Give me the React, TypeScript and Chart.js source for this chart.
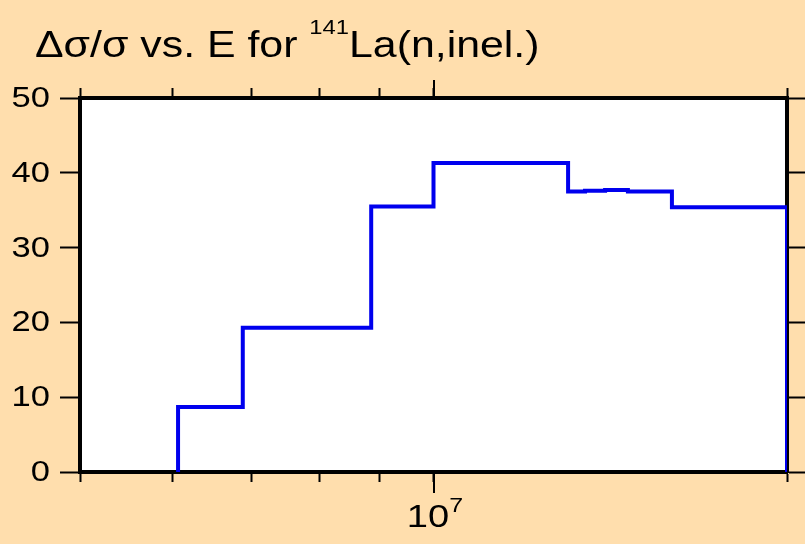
import React, { useEffect, useRef } from "react";
import { Chart, registerables } from "chart.js";

Chart.register(...registerables);

// ---- data ----
const binEdges = [6.06e6, 6.88e6, 8.85e6, 1.0e7, 1.302e7, 1.346e7, 1.4e7, 1.464e7, 1.596e7, 2.0e7];
const relUncertainty = [8.7, 19.3, 35.5, 41.3, 37.5, 37.6, 37.7, 37.5, 35.4];
const xTickValues = [5e6, 6e6, 7e6, 8e6, 9e6, 1e7, 2e7];
const xMajorTicks = [1e7];
const xMajorLabels = [["10", "7"]];
const yTickValues = [0, 10, 20, 30, 40, 50];
const yTickLabels = ["0", "10", "20", "30", "40", "50"];
const titleParts = ["\u0394\u03c3/\u03c3 vs. E for ", "141", "La(n,inel.)"];

const FONT = "'Liberation Sans', Arial, Helvetica, sans-serif";
const BG = "#FFDEAD";
const SX = 1.19; // horizontal text stretch seen in the reference

function buildPoints() {
  const pts: { x: number; y: number }[] = [];
  pts.push({ x: binEdges[0], y: 0 });
  for (let i = 0; i < relUncertainty.length; i++) {
    pts.push({ x: binEdges[i], y: relUncertainty[i] });
  }
  const last = binEdges[binEdges.length - 1];
  pts.push({ x: last, y: relUncertainty[relUncertainty.length - 1] });
  pts.push({ x: last, y: 0 });
  return pts;
}

const tickGrid = (len: number) => ({
  drawOnChartArea: false,
  drawTicks: true,
  tickLength: len,
  tickColor: "#000",
  tickWidth: 2,
  color: "#000",
});
const border = { display: true, color: "#000", width: 4 };

function text(ctx: any, s: string, x: number, y: number, size: number, align: string, baseline = "alphabetic") {
  ctx.save();
  ctx.translate(x, y);
  ctx.scale(SX, 1);
  ctx.font = `${size}px ${FONT}`;
  ctx.textAlign = align;
  ctx.textBaseline = baseline;
  ctx.fillText(s, 0, 0);
  const w = ctx.measureText(s).width * SX;
  ctx.restore();
  return w;
}

function measure(ctx: any, s: string, size: number) {
  ctx.save();
  ctx.font = `${size}px ${FONT}`;
  const w = ctx.measureText(s).width * SX;
  ctx.restore();
  return w;
}

const decorPlugin = {
  id: "decor",
  afterDraw(chart: any) {
    const ctx = chart.ctx;
    const xs = chart.scales.x;
    const ys = chart.scales.y;
    const area = chart.chartArea;
    ctx.save();
    ctx.fillStyle = "#000";
    ctx.strokeStyle = "#000";
    // title
    let tx = 35;
    const tb = 57;
    tx += text(ctx, titleParts[0], tx, tb, 36, "left");
    tx += text(ctx, titleParts[1], tx, tb - 23, 20, "left");
    text(ctx, titleParts[2], tx, tb, 36, "left");

    // y tick labels
    yTickValues.forEach((v, i) => {
      const py = ys.getPixelForValue(v);
      text(ctx, yTickLabels[i], 50, py + 1, 29, "right", "middle");
    });

    // major x ticks (longer) and labels
    ctx.lineWidth = 2;
    xMajorTicks.forEach((v, i) => {
      const px = Math.round(xs.getPixelForValue(v));
      ctx.beginPath();
      ctx.moveTo(px, area.bottom + 2);
      ctx.lineTo(px, area.bottom + 21);
      ctx.moveTo(px, area.top - 2);
      ctx.lineTo(px, area.top - 18);
      ctx.stroke();
      const [base, exp] = xMajorLabels[i];
      const bw = measure(ctx, base, 32);
      const ew = measure(ctx, exp, 21);
      const left = px - (bw + ew) / 2 + 1;
      text(ctx, base, left, 527, 32, "left");
      text(ctx, exp, left + bw, 512, 21, "left");
    });
    ctx.restore();
  },
};

export default function App() {
  const ref = useRef<HTMLCanvasElement | null>(null);
  useEffect(() => {
    if (!ref.current) return;
    const chart = new Chart(ref.current, {
      type: "line",
      data: {
        datasets: [
          {
            data: buildPoints(),
            borderColor: "#0000EE",
            borderWidth: 4,
            pointRadius: 0,
            stepped: "before",
            fill: false,
            xAxisID: "x",
            yAxisID: "y",
          },
        ],
      },
      options: {
        responsive: false,
        animation: false,
        events: [],
        layout: { padding: 0 },
        plugins: { legend: { display: false }, tooltip: { enabled: false }, title: { display: false } },
        scales: {
          x: {
            type: "logarithmic",
            position: "bottom",
            min: 5e6,
            max: 2e7,
            afterBuildTicks: (s: any) => {
              s.ticks = xTickValues.map((v) => ({ value: v }));
            },
            ticks: { display: false },
            grid: tickGrid(10),
            border,
            afterFit: (s: any) => {
              s.height = 72;
            },
          },
          xTop: {
            type: "logarithmic",
            position: "top",
            min: 5e6,
            max: 2e7,
            afterBuildTicks: (s: any) => {
              s.ticks = xTickValues.map((v) => ({ value: v }));
            },
            ticks: { display: false },
            grid: tickGrid(10),
            border,
            afterFit: (s: any) => {
              s.height = 98;
            },
          },
          y: {
            type: "linear",
            position: "left",
            min: 0,
            max: 50,
            afterBuildTicks: (s: any) => {
              s.ticks = yTickValues.map((v) => ({ value: v }));
            },
            ticks: { display: false },
            grid: tickGrid(20),
            border,
            afterFit: (s: any) => {
              s.width = 80;
            },
          },
          yRight: {
            type: "linear",
            position: "right",
            min: 0,
            max: 50,
            afterBuildTicks: (s: any) => {
              s.ticks = yTickValues.map((v) => ({ value: v }));
            },
            ticks: { display: false },
            grid: tickGrid(18),
            border,
            afterFit: (s: any) => {
              s.width = 18;
            },
          },
        },
      },
      plugins: [
        {
          id: "bg",
          beforeDraw(chart: any) {
            const { ctx, chartArea: a } = chart;
            ctx.save();
            ctx.fillStyle = BG;
            ctx.fillRect(0, 0, chart.width, chart.height);
            ctx.fillStyle = "#fff";
            ctx.fillRect(a.left, a.top, a.right - a.left, a.bottom - a.top);
            ctx.restore();
          },
        },
        decorPlugin,
      ],
    } as any);
    return () => chart.destroy();
  }, []);
  return (
    <div style={{ position: "fixed", left: 0, top: 0, width: 805, height: 544, background: BG }}>
      <canvas ref={ref} width={805} height={544} style={{ display: "block" }} />
    </div>
  );
}
